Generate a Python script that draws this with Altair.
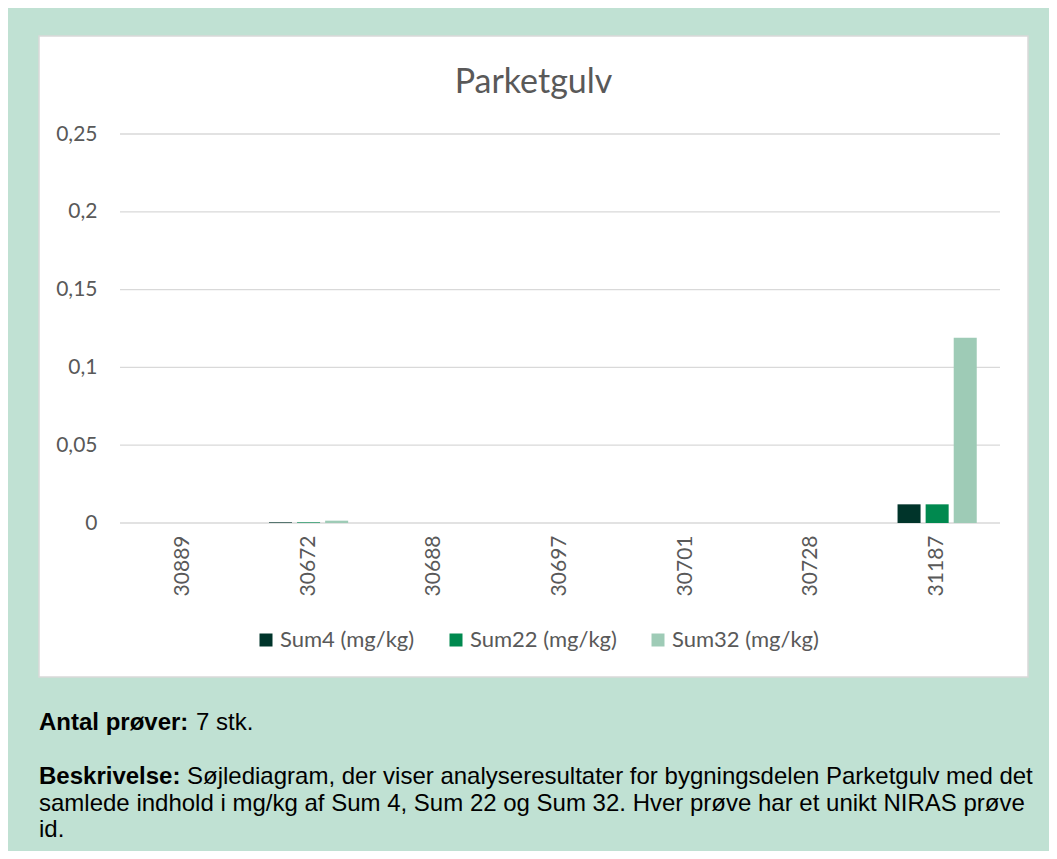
import altair as alt
import pandas as pd

# ---------------- data ----------------
samples = ["30889", "30672", "30688", "30697", "30701", "30728", "31187"]
series = ["Sum4 (mg/kg)", "Sum22 (mg/kg)", "Sum32 (mg/kg)"]
sum4 = [0, 0.0004, 0, 0, 0, 0, 0.012]
sum22 = [0, 0.0004, 0, 0, 0, 0, 0.012]
sum32 = [0, 0.0015, 0, 0, 0, 0, 0.119]
y_ticks = [0, 0.05, 0.1, 0.15, 0.2, 0.25]
colors = ["#00342A", "#00894F", "#9ECBB6"]

title_text = "Parketgulv"
count_label = "Antal prøver:"
count_text = "7 stk."
desc_label = "Beskrivelse:"
desc_lines = [
    "Søjlediagram, der viser analyseresultater for bygningsdelen Parketgulv med det",
    "samlede indhold i mg/kg af Sum 4, Sum 22 og Sum 32. Hver prøve har et unikt NIRAS prøve",
    "id.",
]

rows = []
for s, a, b, c in zip(samples, sum4, sum22, sum32):
    for name, v in zip(series, (a, b, c)):
        rows.append({"sample": s, "series": name, "value": v})
df = pd.DataFrame(rows)
grid_df = pd.DataFrame({"tick": y_ticks})

# ---------------- layout ----------------
W, H = 880, 389
GRAY = "#595959"
CHART_FONT = "Lato"
TEXT_FONT = "Liberation Sans"
one = alt.Data(values=[{}])

yscale = alt.Scale(domain=[0, 0.25], nice=False, zero=True)

panel = alt.Chart(one).mark_rect(fill="white", stroke="#D9D9D9", strokeWidth=1.5).encode(
    x=alt.value(-81), x2=alt.value(908), y=alt.value(-98), y2=alt.value(543)
)

yaxis = alt.Axis(
    title=None, values=y_ticks, format="~g",
    domain=False, ticks=False, grid=False, labelPadding=23,
    labelFont=CHART_FONT, labelFontSize=21, labelColor=GRAY, zindex=1,
)

grid = alt.Chart(grid_df).mark_rule(color="#D9D9D9", strokeWidth=1.3).encode(
    y=alt.Y("tick:Q", scale=yscale, axis=yaxis),
    x=alt.value(0),
    x2=alt.value(W),
)

bars = alt.Chart(df).mark_bar().encode(
    x=alt.X(
        "sample:N",
        sort=samples,
        scale=alt.Scale(paddingInner=0.37, paddingOuter=0.185),
        axis=alt.Axis(
            title=None, labelAngle=-90, domain=False, ticks=False, tickSize=0,
            grid=False, labelPadding=12, labelFont=CHART_FONT, labelFontSize=21,
            labelColor=GRAY, zindex=1,
        ),
    ),
    xOffset=alt.XOffset("series:N", sort=series,
                        scale=alt.Scale(paddingInner=0.18, paddingOuter=0)),
    y=alt.Y("value:Q", scale=yscale, axis=yaxis),
    color=alt.Color(
        "series:N",
        sort=series,
        scale=alt.Scale(domain=series, range=colors),
        legend=alt.Legend(
            title=None, orient="none", legendX=135, legendY=495,
            direction="horizontal", symbolType="square", symbolSize=169,
            symbolStrokeWidth=0, labelFont=CHART_FONT, labelFontSize=22,
            labelColor=GRAY, labelOffset=3, columnPadding=30, padding=0,
            zindex=1, labelLimit=400,
        ),
    ),
)


def txt(s, x, y, **kw):
    return alt.Chart(one).mark_text(baseline="alphabetic", **kw).encode(
        x=alt.value(x), y=alt.value(y), text=alt.value(s)
    )


title = txt(title_text, 413.5, -41.5, align="center", font=CHART_FONT,
            fontSize=34, color=GRAY)

fs = 24
t1 = txt(count_label, -81, 596, align="left", font=TEXT_FONT, fontSize=fs,
         fontWeight="bold", color="black")
t2 = txt(count_text, 76, 596, align="left", font=TEXT_FONT, fontSize=fs, color="black")
t3 = txt(desc_label, -81, 650, align="left", font=TEXT_FONT, fontSize=fs,
         fontWeight="bold", color="black")
t4 = txt(desc_lines[0], 67, 650, align="left", font=TEXT_FONT, fontSize=fs, color="black")
t5 = txt(desc_lines[1], -81, 677, align="left", font=TEXT_FONT, fontSize=fs, color="black")
t6 = txt(desc_lines[2], -81, 703, align="left", font=TEXT_FONT, fontSize=fs, color="black")

chart = alt.layer(panel, grid, bars, title, t1, t2, t3, t4, t5, t6).properties(
    width=W,
    height=H,
    background="#C0E1D3",
    padding={"left": 112, "top": 126, "right": 49, "bottom": 328},
    autosize=alt.AutoSizeParams(type="none"),
).configure_view(stroke=None).configure(
    locale=alt.Locale(
        number=alt.NumberLocale(decimal=",", thousands=".", grouping=[3],
                                currency=["", " kr."])
    )
)

chart.save("out.html", embed_options={"renderer": "svg", "actions": False})
